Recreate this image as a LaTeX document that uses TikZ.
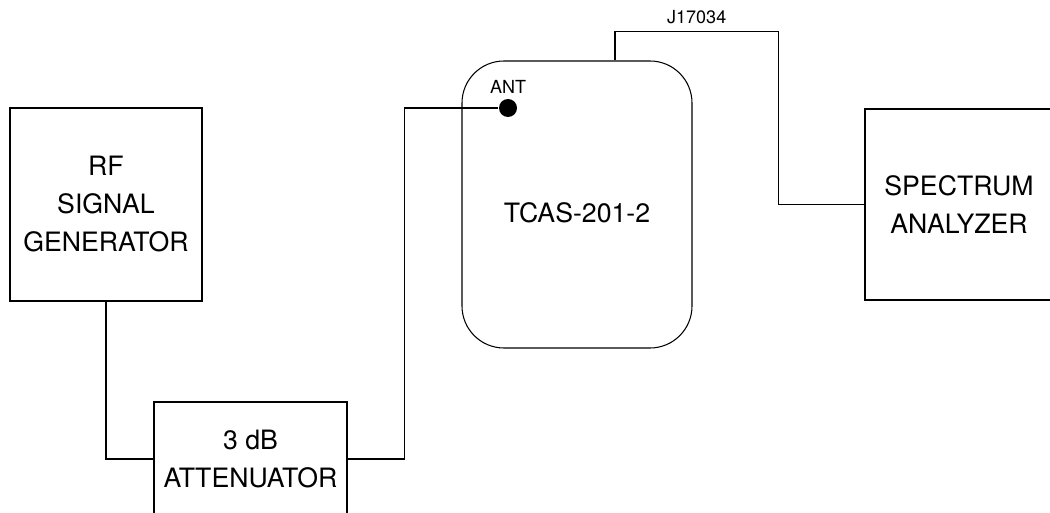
\documentclass[tikz,border=0pt]{standalone}
\usepackage{fontspec}
\setmainfont{TeX Gyre Heros}
\usetikzlibrary{positioning}
\begin{document}
\begin{tikzpicture}[
  x=0.75pt, y=-0.75pt, line width=0.8pt,
  font=\fontsize{20}{28.5}\selectfont,
  box/.style={rectangle, draw, inner sep=0pt, align=center},
  unitbox/.style={rectangle, draw, rounded corners=31.5pt, minimum width=172.5pt, minimum height=215.25pt},
  port/.style={circle, fill, minimum size=13.5pt, inner sep=0pt},
  small/.style={font=\fontsize{13.5}{16}\selectfont}
]
\clip (0,0) rectangle (1050,513);

% RF source
\node[box, minimum width=144pt, minimum height=144.75pt] (gen) at (106,204.5) {RF\\ SIGNAL\\ GENERATOR};

% attenuator (runs off the bottom)
\node[box, minimum width=144.75pt, minimum height=85.5pt] (att) at (250.5,459) {3 dB\\ ATTENUATOR};

% unit under test
\node[unitbox] (tcas) at (577,204.5) {};
\node (tcas_label) at ([yshift=-6.4pt]tcas.center) {TCAS-201-2};
\node[port, label={[small, label distance=0pt]above:ANT}] (ant) at (508,108) {};

% analyzer (runs off the right)
\node[box, minimum width=141pt, minimum height=143.25pt, font=\fontsize{20}{29}\selectfont] (spec) at (959,204.5) {SPECTRUM\\ ANALYZER};

% cabling
\draw (gen.south) |- (att.west);
\draw (att.east) -- ++(57,0) |- (ant);
\draw ([xshift=28.5pt]tcas.north) -- ++(0,-29) -| node[small, pos=0.25, above=2pt] (j_label) {J17034} ([xshift=-64.5pt]spec.west) -- (spec.west);

\end{tikzpicture}
\end{document}
